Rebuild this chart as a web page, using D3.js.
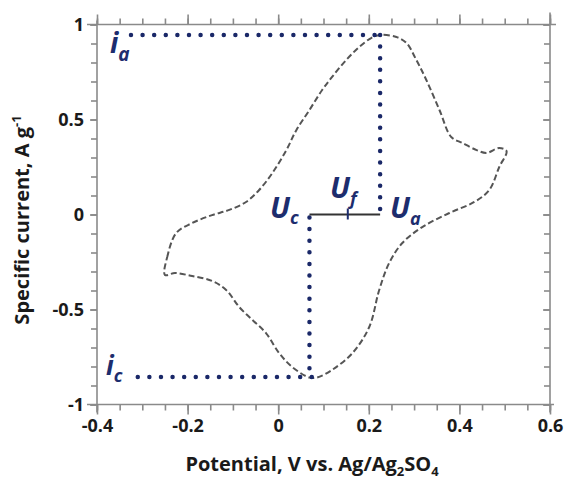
<!DOCTYPE html>
<html>
<head>
<meta charset="utf-8">
<script src="https://cdn.jsdelivr.net/npm/d3@7"></script>
<style>
  body { margin: 0; background: #fff; }
  text { font-family: "Open Sans", "Lato", sans-serif; }
  .axis path, .axis line { stroke: #8a8a8a; stroke-width: 1.6; }
  .axis text { font-size: 18px; font-weight: 700; fill: #1a1a1a; }
  .lbl { fill: #1d2d6e; font-style: italic; font-weight: 700; }
</style>
</head>
<body>
<script>
// cyclic voltammogram (V vs Ag/Ag2SO4, A/g)
var potential = [-0.250, -0.245, -0.225, -0.190, -0.146, -0.108, -0.071, -0.042, -0.013, 0.018,
  0.040, 0.069, 0.097, 0.119, 0.150, 0.179, 0.206, 0.225, 0.261, 0.283,
  0.305, 0.327, 0.356, 0.382, 0.407, 0.438, 0.460, 0.488, 0.504, 0.488,
  0.466, 0.433, 0.378, 0.318, 0.274, 0.245, 0.223, 0.201, 0.164, 0.119,
  0.086, 0.069, 0.031, 0.002, -0.027, -0.057, -0.086, -0.115, -0.146, -0.190, -0.228];
var current = [-0.318, -0.224, -0.097, -0.045, -0.003, 0.024, 0.066, 0.129, 0.218, 0.339,
  0.444, 0.550, 0.655, 0.724, 0.813, 0.882, 0.930, 0.945, 0.934, 0.903,
  0.813, 0.708, 0.550, 0.408, 0.376, 0.339, 0.324, 0.350, 0.334, 0.250,
  0.129, 0.066, 0.008, -0.066, -0.150, -0.255, -0.397, -0.592, -0.729, -0.818,
  -0.858, -0.858, -0.803, -0.729, -0.624, -0.555, -0.487, -0.397, -0.350, -0.324, -0.308];

var xTicks = [-0.4, -0.2, 0, 0.2, 0.4, 0.6];
var yTicks = [-1, -0.5, 0, 0.5, 1];

// marker values
var ia = 0.945, ic = -0.855;     // peak currents
var Ua = 0.225, Uc = 0.069;      // peak potentials
var iaStart = -0.325, icStart = -0.31;

window.onload = function(){
  var w = 568, h = 482;
  var svg = d3.select("body").append("svg")
    .attr("width", w).attr("height", h);

  var x = d3.scaleLinear().domain([-0.4, 0.6]).range([97, 550]);
  var y = d3.scaleLinear().domain([-1, 1]).range([404.5, 24.5]);

  // plain hyphen instead of unicode minus
  var fmt = function(d){ return d === 0 ? "0" : String(+d.toFixed(2)); };

  // minor ticks first
  svg.append("g").attr("class", "axis")
    .attr("transform", "translate(0," + y(-1) + ")")
    .call(d3.axisBottom(x).tickValues(d3.range(-0.4, 0.61, 0.05)).tickSize(6).tickFormat(""))
    .select(".domain").remove();
  svg.append("g").attr("class", "axis")
    .attr("transform", "translate(0," + y(1) + ")")
    .call(d3.axisTop(x).tickValues(d3.range(-0.4, 0.61, 0.05)).tickSize(6).tickFormat(""))
    .select(".domain").remove();
  svg.append("g").attr("class", "axis")
    .attr("transform", "translate(" + x(-0.4) + ",0)")
    .call(d3.axisLeft(y).tickValues(d3.range(-1, 1.01, 0.1)).tickSize(6).tickFormat(""))
    .select(".domain").remove();
  svg.append("g").attr("class", "axis")
    .attr("transform", "translate(" + x(0.6) + ",0)")
    .call(d3.axisLeft(y).tickValues(d3.range(-1, 1.01, 0.1)).tickSize(6).tickFormat(""))
    .select(".domain").remove();

  // major ticks with labels
  var xb = svg.append("g").attr("class", "axis")
    .attr("transform", "translate(0," + y(-1) + ")")
    .call(d3.axisBottom(x).tickValues(xTicks).tickSize(10).tickPadding(5).tickFormat(fmt));
  xb.select(".domain").attr("d", "M" + (x(-0.4) - 10) + ",0H" + (x(0.6) + 4));
  var xt = svg.append("g").attr("class", "axis")
    .attr("transform", "translate(0," + y(1) + ")")
    .call(d3.axisTop(x).tickValues(xTicks).tickSize(10).tickFormat(""));
  xt.select(".domain").attr("d", "M" + (x(-0.4) - 10) + ",0H" + (x(0.6) + 6));
  var yl = svg.append("g").attr("class", "axis")
    .attr("transform", "translate(" + x(-0.4) + ",0)")
    .call(d3.axisLeft(y).tickValues(yTicks).tickSize(7).tickPadding(6).tickFormat(fmt));
  yl.select(".domain").attr("d", "M0," + (y(1) - 4) + "V" + (y(-1) + 8));
  var yr = svg.append("g").attr("class", "axis")
    .attr("transform", "translate(" + x(0.6) + ",0)")
    .call(d3.axisLeft(y).tickValues(yTicks).tickSize(7).tickFormat(""));
  yr.select(".domain").attr("d", "M0," + (y(1) - 12) + "V" + (y(-1) + 8));
  yl.selectAll("text").attr("dy", "0.35em");

  // axis titles
  var xt2 = svg.append("text")
    .attr("x", 312).attr("y", 471)
    .attr("text-anchor", "middle")
    .style("font-size", "20px").style("font-weight", 700).style("fill", "#1a1a1a");
  xt2.append("tspan").text("Potential, V vs. Ag/Ag");
  xt2.append("tspan").attr("dy", 5).style("font-size", "13px").text("2");
  xt2.append("tspan").attr("dy", -5).text("SO");
  xt2.append("tspan").attr("dy", 5).style("font-size", "13px").text("4");

  var yt2 = svg.append("text")
    .attr("transform", "translate(29,220) rotate(-90)")
    .attr("text-anchor", "middle")
    .style("font-size", "20px").style("font-weight", 700).style("fill", "#1a1a1a");
  yt2.append("tspan").text("Specific current, A g");
  yt2.append("tspan").attr("dy", -8).style("font-size", "13px").text("-1");

  // CV curve
  var pts = potential.map(function(v, k){ return [x(v), y(current[k])]; });
  svg.append("path")
    .attr("d", d3.line().curve(d3.curveCatmullRomClosed.alpha(0.5))(pts))
    .attr("fill", "none")
    .attr("stroke", "#555")
    .attr("stroke-width", 2)
    .attr("stroke-dasharray", "6,3");

  // dotted guide lines
  var navy = "#1a2868";
  var dotted = function(x1, y1, x2, y2){
    svg.append("line")
      .attr("x1", x1).attr("y1", y1).attr("x2", x2).attr("y2", y2)
      .attr("stroke", navy).attr("stroke-width", 4.5)
      .attr("stroke-linecap", "round")
      .attr("stroke-dasharray", "0,11.6");
  };
  dotted(x(iaStart), y(ia), x(Ua), y(ia));
  dotted(x(Ua), y(ia), x(Ua), y(0));
  dotted(x(icStart), y(ic), x(Uc + 0.02), y(ic));
  dotted(x(Uc), y(0) + 3, x(Uc), y(ic));

  // solid line Uc -> Ua with midpoint tick
  var Uf = (Ua + Uc) / 2;
  svg.append("line")
    .attr("x1", x(Uc)).attr("x2", x(Ua)).attr("y1", y(0)).attr("y2", y(0))
    .attr("stroke", "#333").attr("stroke-width", 2);
  svg.append("line")
    .attr("x1", x(Uf) + 3).attr("x2", x(Uf) + 3).attr("y1", y(0) - 6).attr("y2", y(0) + 5)
    .attr("stroke", "#1d2d6e").attr("stroke-width", 2);

  // labels
  var label = function(px, py, main, sub, size, subSize, drop){
    var t = svg.append("text").attr("class", "lbl")
      .attr("x", px).attr("y", py).style("font-size", size + "px");
    t.append("tspan").text(main);
    t.append("tspan").attr("dy", drop).style("font-size", subSize + "px").text(sub);
  };
  label(110, 53, "i", "a", 28, 19, 8);
  label(106, 375, "i", "c", 26, 18, 7);
  label(270, 218, "U", "c", 29, 18, 6);
  label(330, 198, "U", "f", 29, 18, 7);
  label(390, 218, "U", "a", 29, 18, 7);
};
</script>
</body>
</html>
